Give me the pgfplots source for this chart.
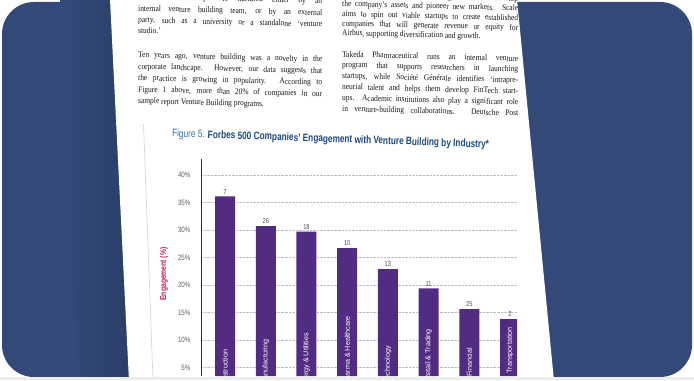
\documentclass[border=0pt]{standalone}
\usepackage{fontspec}
\setmainfont{Liberation Serif}[FakeStretch=0.87]
\newfontfamily\cond{Liberation Sans}[FakeStretch=0.8]
\newfontfamily\sansf{Liberation Sans}
\usepackage{graphicx}
\usepackage{pgfplots}
\usepackage{pgfplotstable}
\pgfplotsset{compat=1.18}

\definecolor{bluebg}{RGB}{51,74,121}
\definecolor{bluedark}{RGB}{43,62,104}
\definecolor{barpurple}{RGB}{82,43,130}
\definecolor{axisnavy}{RGB}{45,42,92}
\definecolor{crimson}{RGB}{190,32,72}
\definecolor{figblue}{RGB}{52,112,172}
\definecolor{titleblue}{RGB}{30,74,126}
\definecolor{bodytext}{RGB}{25,25,25}

\pgfplotstableread{
x y n
0 36.1 7
1 30.7 26
2 29.7 18
3 26.7 10
4 22.9 13
5 19.4 11
6 15.6 25
7 13.8 2
}\engdata

\newcommand{\bodyfont}{\fontsize{8.6}{10}\selectfont}
\newcommand{\jline}[4]{\node[anchor=base west, inner sep=0pt, rotate=-1.4, font=\bodyfont, text=bodytext] at (#1,#2) {\makebox[#3bp][s]{#4}};}
\newcommand{\lline}[4]{\node[anchor=base west, inner sep=0pt, rotate=-1.4, font=\bodyfont, text=bodytext] at (#1,#2) {\makebox[#3bp][l]{#4}};}

\begin{document}
\begin{tikzpicture}[x=1bp,y=1bp]
\useasboundingbox (0,0) rectangle (694,380);
\fill[white] (0,0) rectangle (694,380);
% blue background
\fill[bluebg, rounded corners=32bp] (2,3) rectangle (692,378);
\shade[left color=bluebg, right color=bluedark] (60,380) -- (112,380) -- (131,3) -- (79,3) -- cycle;
% page
\fill[white] (110,381) -- (517,381) -- (554,-1) -- (129,-1) -- cycle;
\begin{scope}
\clip (110,381) -- (517,381) -- (554,-1) -- (129,-1) -- cycle;
% left column
\jline{138}{381}{184}{Venture-built startups are nurtured either by an}
\jline{138}{369}{184}{internal venture building team, or by an external}
\jline{138}{357.5}{184}{party, such as a university or a standalone ‘venture}
\lline{138}{347}{184}{studio.’}
\jline{138}{322.5}{184}{Ten years ago, venture building was a novelty in the}
\jline{138}{311}{184}{corporate landscape. However, our data suggests that}
\jline{138}{299.5}{184}{the practice is growing in popularity. According to}
\jline{138}{288}{184}{Figure 1 above, more than 20\% of companies in our}
\lline{138}{276.5}{184}{sample report Venture Building programs.}
% right column
\jline{342}{383}{176}{initiatives that leverage existing talent to develop}
\jline{342}{373.5}{176}{the company’s assets and pioneer new markets. Scale}
\jline{342}{363.5}{176}{aims to spin out viable startups to create established}
\jline{342}{354}{176}{companies that will generate revenue or equity for}
\lline{342}{344.5}{176}{Airbus, supporting diversification and growth.}
\jline{342}{323}{176}{Takeda Pharmaceutical runs an internal venture}
\jline{342}{312.5}{176}{program that supports researchers in launching}
\jline{342}{301.5}{176}{startups, while Société Générale identifies ‘intrapre-}
\jline{342}{290.5}{176}{neurial talent and helps them develop FinTech start-}
\jline{342}{279.5}{176}{ups. Academic institutions also play a significant role}
\jline{342}{268.5}{176}{in venture-building collaborations. Deutsche Post}
% figure frame line
\draw[gray!35, line width=0.6bp] (143.5,256) -- (153,0);
% title
\node[anchor=west, inner sep=0pt, rotate=-2] at (172,246) {\resizebox{317bp}{7.8bp}{\cond\color{figblue}Figure 5. \color{titleblue}\bfseries Forbes 500 Companies’ Engagement with Venture Building by Industry*}};
\end{scope}

\begin{axis}[
  at={(201bp,4bp)}, anchor=south west,
  scale only axis, width=316bp, height=217bp,
  xmin=-0.59, xmax=7.17, ymin=3.45, ymax=42.9,
  axis y line*=left, axis x line=none,
  y axis line style={draw=axisnavy, line width=0.6bp},
  xtick=\empty,
  ytick={5,10,15,20,25,30,35,40},
  yticklabels={5\%,10\%,15\%,20\%,25\%,30\%,35\%,40\%},
  yticklabel style={font=\cond\fontsize{7.8}{9}\selectfont, text=black!62, xshift=-7bp},
  major tick length=0pt,
  ymajorgrids,
  grid style={densely dotted, gray!50, line width=0.6bp},
  ylabel={Engagement (\%)},
  ylabel style={at={(rel axis cs:-0.117,0.47)}, anchor=center, font=\cond\bfseries\fontsize{8.5}{9}\selectfont, text=crimson},
  ybar, bar width=20bp,
  nodes near coords, point meta=explicit symbolic,
  every node near coord/.append style={font=\cond\fontsize{7.2}{8}\selectfont, text=black!68, inner sep=2bp},
]
\addplot[fill=barpurple, draw=none] table[x=x, y=y, meta=n] {\engdata};
\node[rotate=90, anchor=west, inner sep=0pt, text=white, font=\sansf\fontsize{7.2}{8}\selectfont] at (axis cs:0,0.85) {Construction};
\node[rotate=90, anchor=west, inner sep=0pt, text=white, font=\sansf\fontsize{7.2}{8}\selectfont] at (axis cs:1,1.7) {Manufacturing};
\node[rotate=90, anchor=west, inner sep=0pt, text=white, font=\sansf\fontsize{7.2}{8}\selectfont] at (axis cs:2,1.3) {Energy \& Utilities};
\node[rotate=90, anchor=west, inner sep=0pt, text=white, font=\sansf\fontsize{7.2}{8}\selectfont] at (axis cs:3,1.8) {Pharma \& Healthcare};
\node[rotate=90, anchor=west, inner sep=0pt, text=white, font=\sansf\fontsize{7.2}{8}\selectfont] at (axis cs:4,2.2) {Technology};
\node[rotate=90, anchor=west, inner sep=0pt, text=white, font=\sansf\fontsize{7.2}{8}\selectfont] at (axis cs:5,2.6) {Retail \& Trading};
\node[rotate=90, anchor=west, inner sep=0pt, text=white, font=\sansf\fontsize{7.2}{8}\selectfont] at (axis cs:6,3.3) {Financial};
\node[rotate=90, anchor=west, inner sep=0pt, text=white, font=\sansf\fontsize{7.2}{8}\selectfont] at (axis cs:7,3.9) {Transportation};
\end{axis}
% bottom strip
\fill[gray!14] (0,0) rectangle (694,3.2);
\end{tikzpicture}
\end{document}
